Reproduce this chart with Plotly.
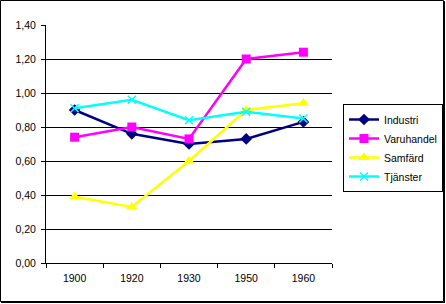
import plotly.graph_objects as go

years = ["1900", "1920", "1930", "1950", "1960"]
industri = [0.90, 0.76, 0.70, 0.73, 0.83]
varuhandel = [0.74, 0.80, 0.73, 1.20, 1.24]
samfard = [0.39, 0.33, 0.60, 0.90, 0.94]
tjanster = [0.91, 0.96, 0.84, 0.89, 0.85]
y_ticks = [0, 0.2, 0.4, 0.6, 0.8, 1.0, 1.2, 1.4]

W, H = 446, 304
L, R, T, B = 46, 332, 25, 263

def px(x):
    return (x - L) / (R - L)

def py(y):
    return (B - y) / (B - T)

fig = go.Figure()
fig.add_trace(go.Scatter(x=years, y=industri, name="Industri", mode="lines+markers",
                         line=dict(color="#000080", width=2.5),
                         marker=dict(symbol="diamond", size=9, color="#000080")))
fig.add_trace(go.Scatter(x=years, y=varuhandel, name="Varuhandel", mode="lines+markers",
                         line=dict(color="#FF00FF", width=2.5),
                         marker=dict(symbol="square", size=9, color="#FF00FF")))
fig.add_trace(go.Scatter(x=years, y=samfard, name="Samfärd", mode="lines+markers",
                         line=dict(color="#FFFF00", width=2.5),
                         marker=dict(symbol="triangle-up", size=10, color="#FFFF00")))
fig.add_trace(go.Scatter(x=years, y=tjanster, name="Tjänster", mode="lines+markers",
                         line=dict(color="#00FFFF", width=2.5),
                         marker=dict(symbol="x-thin", size=8, color="#00FFFF",
                                     line=dict(color="#00FFFF", width=1.5))))

shapes = [
    dict(type="rect", xref="paper", yref="paper",
         x0=px(0.5), x1=px(443.5), y0=py(0.5), y1=py(301.5),
         line=dict(color="black", width=1)),
    dict(type="line", xref="paper", yref="paper",
         x0=px(444.5), x1=px(444.5), y0=py(1), y1=py(303),
         line=dict(color="black", width=1)),
    dict(type="line", xref="paper", yref="paper",
         x0=px(1), x1=px(445), y0=py(302.5), y1=py(302.5),
         line=dict(color="black", width=1)),
]

fig.update_layout(
    width=W, height=H,
    margin=dict(l=L, r=W - R, t=T, b=H - B, pad=0, autoexpand=False),
    paper_bgcolor="white", plot_bgcolor="white",
    separators=",.",
    font=dict(family="Liberation Sans, Arial, sans-serif", size=10.5, color="black"),
    showlegend=True,
    legend=dict(x=px(343), y=py(104), xanchor="left", yanchor="top",
                bordercolor="black", borderwidth=1, bgcolor="white",
                font=dict(size=10.5), tracegroupgap=0, itemwidth=30),
    shapes=shapes,
    xaxis=dict(type="category", range=[-0.5, len(years) - 0.5], tickson="boundaries",
               ticks="outside", ticklen=4,
               tickcolor="black", showline=True, linecolor="black", linewidth=1,
               showgrid=False, tickfont=dict(size=10.5), ticklabelstandoff=5),
    yaxis=dict(range=[0, 1.4], tickvals=y_ticks, tickformat=".2f", ticks="outside",
               ticklen=4, tickcolor="black", showline=True, linecolor="black",
               linewidth=1, showgrid=True, gridcolor="black", gridwidth=1,
               zeroline=False, tickfont=dict(size=10.5), ticklabelstandoff=3),
)

fig.write_html("out.html")
